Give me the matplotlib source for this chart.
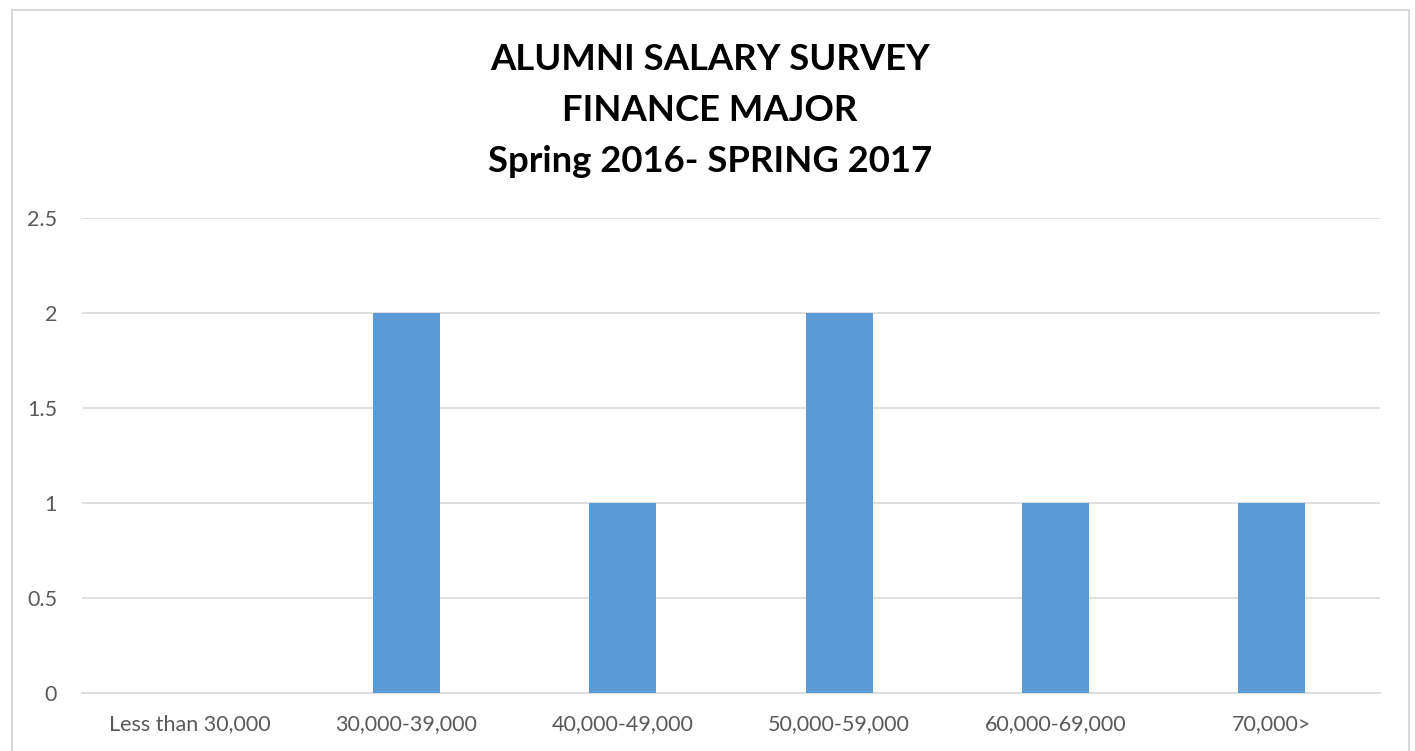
import matplotlib.pyplot as plt
from matplotlib.patches import Rectangle

categories = ["Less than 30,000", "30,000-39,000", "40,000-49,000",
              "50,000-59,000", "60,000-69,000", "70,000>"]
counts = [0, 2, 1, 2, 1, 1]
yticks = [0, 0.5, 1, 1.5, 2, 2.5]
title_lines = ["ALUMNI SALARY SURVEY", "FINANCE MAJOR", "Spring 2016- SPRING 2017"]

plt.rcParams['font.family'] = ['Lato', 'DejaVu Sans']

fig = plt.figure(figsize=(14.15, 7.51), dpi=100)
ax = fig.add_axes([82 / 1415, 1 - 693 / 751, 1298 / 1415, 475 / 751])

x = range(len(categories))
ax.bar(x, counts, width=0.31, color="#5b9bd5", zorder=3)

ax.set_xlim(-0.5, len(categories) - 0.5)
ax.set_ylim(0, 2.5)
ax.set_yticks(yticks)
ax.set_yticklabels(["0", "0.5", "1", "1.5", "2", "2.5"])
ax.set_xticks(list(x))
ax.set_xticklabels(categories)
ax.tick_params(axis="both", length=0, labelsize=15.5, colors="#595959")
ax.tick_params(axis="x", pad=15)
ax.tick_params(axis="y", pad=18)
ax.grid(axis="y", color="#d9d9d9", linewidth=1.2, zorder=0)
for s in ["top", "right", "left"]:
    ax.spines[s].set_visible(False)
ax.spines["bottom"].set_color("#d9d9d9")
ax.spines["bottom"].set_linewidth(1.2)

for i, line in enumerate(title_lines):
    fig.text(710 / 1415, 1 - (60 + 50.5 * i) / 751, line, ha="center", va="center",
             fontsize=26.3, fontweight="bold", color="black")

# chart border
fig.patches.append(Rectangle((11.5 / 1415, -0.05), (1409 - 11.5) / 1415, 1.05 - 10 / 751,
                             transform=fig.transFigure, fill=False,
                             edgecolor="#d9d9d9", linewidth=1.5))

fig.savefig("out.png", dpi=100)
